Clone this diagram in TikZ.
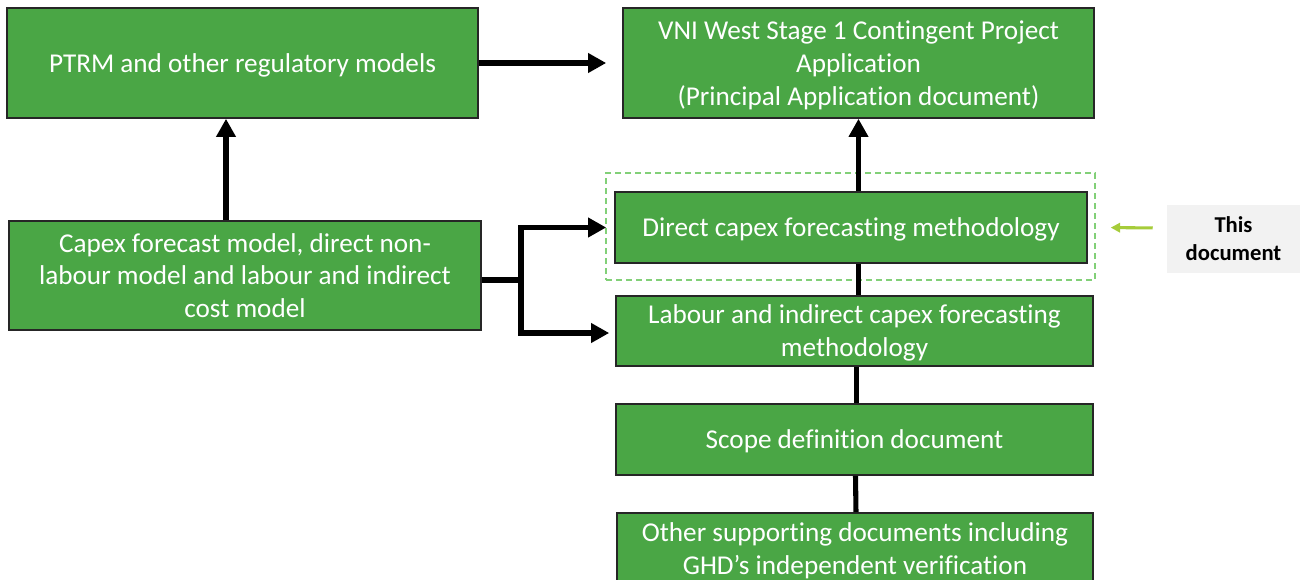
\documentclass[tikz,border=0pt]{standalone}
\usepackage{fontspec}
\setmainfont{Carlito}[Ligatures={NoCommon}]
\usetikzlibrary{arrows.meta}
\definecolor{boxgreen}{RGB}{74,166,69}
\definecolor{dashgreen}{RGB}{130,208,120}
\definecolor{arrowgreen}{RGB}{166,204,58}
\definecolor{lightgray}{RGB}{242,242,242}
\tikzset{
  gbox/.style={draw=black!85, line width=1.2pt, fill=boxgreen, text=white, align=center,
    font=\fontsize{20.4}{24.7}\selectfont, inner sep=0pt, text depth=0pt},
  conn/.style={line width=3.8pt, draw=black},
  arr/.style={conn, -{Triangle[length=13.5pt,width=14pt]}},
}
\begin{document}
\begin{tikzpicture}[x=0.75pt,y=-0.75pt]
\useasboundingbox (0,0) rectangle (1300,579);
\clip (0,0) rectangle (1300,579);
% nodes
\node[gbox, minimum width=471*0.75pt, minimum height=110*0.75pt] (ptrm) at (242.5,63) {PTRM and other regulatory models};
\node[gbox, minimum width=471*0.75pt, minimum height=110*0.75pt] (vni) at (858.5,63) {VNI West Stage 1 Contingent Project\\Application\\(Principal Application document)};
\node[gbox, minimum width=472*0.75pt, minimum height=109*0.75pt] (capex) at (245,275.5) {Capex forecast model, direct non-\\labour model and labour and indirect\\cost model};
\node[gbox, minimum width=472*0.75pt, minimum height=71*0.75pt] (direct) at (851,227.5) {Direct capex forecasting methodology};
\node[gbox, minimum width=477*0.75pt, minimum height=70*0.75pt] (labour) at (854.5,331) {Labour and indirect capex forecasting\\methodology};
\node[gbox, minimum width=477*0.75pt, minimum height=71*0.75pt] (scope) at (854.5,439.5) {Scope definition document};
\node[gbox, minimum width=476*0.75pt, minimum height=72*0.75pt] (other) at (855,549) {Other supporting documents including\\GHD’s independent verification};
\node[fill=lightgray, minimum width=133*0.75pt, minimum height=68*0.75pt, align=center, inner sep=0pt,
  font=\bfseries\fontsize{17}{21}\selectfont] (thisdoc) at (1233.5,239) {This\\document};
\node[draw=dashgreen, line width=1.1pt, dash pattern=on 4.5pt off 3pt, minimum width=489*0.75pt, minimum height=107*0.75pt, inner sep=0pt] (frame) at (850.5,226.5) {};
% connectors
\draw[arr, shorten >=16*0.75pt] (ptrm.east) -- (vni.west);
\draw[arr] ([xshift=-19*0.75pt]capex.north) -- ([xshift=-16.5*0.75pt]ptrm.south);
\coordinate (j) at (521,280);
\draw[arr, shorten >=8*0.75pt] ([yshift=-4.5*0.75pt]capex.east) -- (j) |- (direct.west);
\draw[arr, shorten >=6*0.75pt] (j) |- ([yshift=-2*0.75pt]labour.west);
\draw[arr] (vni.south |- direct.north) -- (vni.south);
\draw[conn] (vni.south |- labour.north) -- (vni.south |- direct.south);
\draw[conn] ([xshift=2*0.75pt]scope.north) -- ([xshift=2*0.75pt]labour.south);
\draw[conn] ([xshift=1*0.75pt]other.north) -- ([xshift=1*0.75pt]scope.south);
\draw[draw=arrowgreen, line width=2.3pt, -{Triangle[length=7pt,width=7pt]}, shorten <=14*0.75pt, shorten >=15*0.75pt] ([yshift=11*0.75pt]thisdoc.west) -- (frame.east |- direct.east);
\end{tikzpicture}
\end{document}
